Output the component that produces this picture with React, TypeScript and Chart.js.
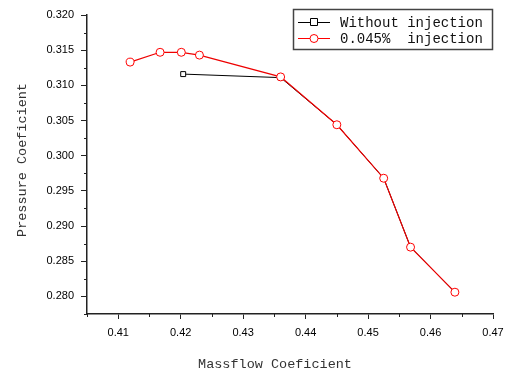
import React, { useEffect, useRef } from "react";
import { Chart, registerables } from "chart.js";

Chart.register(...registerables);

// Data
const redX = [0.4119, 0.4167, 0.4201, 0.4230, 0.4360, 0.4450, 0.4525, 0.4568, 0.4639];
const redY = [0.3133, 0.3147, 0.3147, 0.3143, 0.3112, 0.3044, 0.2968, 0.2870, 0.2806];
const blackX = [0.4204, 0.4360, 0.4450, 0.4525, 0.4568, 0.4639];
const blackY = [0.3116, 0.3111, 0.3044, 0.2968, 0.2870, 0.2806];

const seriesNames = ["Without injection", "0.045%  injection"];
const xTitle = "Massflow Coeficient";
const yTitle = "Pressure Coeficient";

const xTicks = [0.41, 0.42, 0.43, 0.44, 0.45, 0.46, 0.47];
const xMinor = [0.405, 0.415, 0.425, 0.435, 0.445, 0.455, 0.465];
const yTicks = [0.28, 0.285, 0.29, 0.295, 0.3, 0.305, 0.31, 0.315, 0.32];
const yMinor = [0.2775, 0.2825, 0.2875, 0.2925, 0.2975, 0.3025, 0.3075, 0.3125, 0.3175];

const TITLE_FONT = '13.5px "Liberation Mono", "DejaVu Sans Mono", monospace';
const LEGEND_FONT = '14px "Liberation Mono", "DejaVu Sans Mono", monospace';
const TICK_FONT_FAMILY = '"Liberation Sans", Arial, sans-serif';

const decoPlugin = {
  id: "deco",
  afterDraw(chart: any) {
    const ctx = chart.ctx;
    const xs = chart.scales.x;
    const ys = chart.scales.y;
    const area = chart.chartArea;
    ctx.save();
    // minor ticks
    ctx.strokeStyle = "#222";
    ctx.lineWidth = 1;
    ctx.beginPath();
    xMinor.forEach((v) => {
      const px = Math.round(xs.getPixelForValue(v)) + 0.5;
      ctx.moveTo(px, area.bottom);
      ctx.lineTo(px, area.bottom + 3);
    });
    yMinor.forEach((v) => {
      const py = Math.round(ys.getPixelForValue(v)) + 0.5;
      ctx.moveTo(area.left, py);
      ctx.lineTo(area.left - 3, py);
    });
    ctx.stroke();

    // axis titles
    ctx.fillStyle = "#333";
    ctx.font = TITLE_FONT;
    ctx.textAlign = "center";
    ctx.textBaseline = "middle";
    ctx.fillText(xTitle, 275, 364);
    ctx.save();
    ctx.translate(22, 160);
    ctx.rotate(-Math.PI / 2);
    ctx.fillText(yTitle, 0, 0);
    ctx.restore();

    // legend box
    ctx.strokeStyle = "#444";
    ctx.lineWidth = 1.5;
    ctx.strokeRect(293.5, 9.5, 199, 40);
    const rows = [
      { y: 22, color: "#000", style: "rect" },
      { y: 38, color: "#ff0000", style: "circle" },
    ];
    rows.forEach((r, i) => {
      ctx.strokeStyle = r.color;
      ctx.lineWidth = 1;
      ctx.beginPath();
      ctx.moveTo(298, r.y + 0.5);
      ctx.lineTo(330, r.y + 0.5);
      ctx.stroke();
      ctx.fillStyle = "#fff";
      ctx.beginPath();
      if (r.style === "rect") {
        ctx.rect(310.5, r.y - 3.5, 7, 7);
      } else {
        ctx.arc(314, r.y + 0.5, 4, 0, Math.PI * 2);
      }
      ctx.fill();
      ctx.stroke();
      ctx.fillStyle = "#111";
      ctx.textAlign = "left";
      ctx.font = LEGEND_FONT;
      ctx.fillText(seriesNames[i], 340, r.y + 1);
    });
    ctx.restore();
  },
};

export default function App() {
  const ref = useRef<HTMLCanvasElement | null>(null);
  useEffect(() => {
    if (!ref.current) return;
    const chart = new Chart(ref.current, {
      type: "line",
      data: {
        datasets: [
          {
            label: seriesNames[1],
            data: redX.map((x, i) => ({ x, y: redY[i] })),
            borderColor: "#ee0000",
            borderWidth: 1.2,
            pointStyle: "circle",
            pointRadius: 4,
            pointBorderWidth: 1,
            pointBorderColor: "#ff0000",
            pointBackgroundColor: "#ffffff",
            tension: 0,
          },
          {
            label: seriesNames[0],
            data: blackX.map((x, i) => ({ x, y: blackY[i] })),
            borderColor: "#000",
            borderWidth: 1,
            pointStyle: "rect",
            pointRadius: 3.5,
            pointBorderWidth: 1,
            pointBorderColor: "#000",
            pointBackgroundColor: "#ffffff",
            tension: 0,
          },
        ],
      },
      options: {
        animation: false,
        responsive: false,
        devicePixelRatio: 1,
        layout: { padding: { top: 15, right: 18, left: 0, bottom: 0 } },
        plugins: { legend: { display: false }, tooltip: { enabled: false } },
        scales: {
          x: {
            type: "linear",
            min: 0.405,
            max: 0.47,
            afterFit: (s: any) => {
              s.height = 60;
            },
            afterBuildTicks: (s: any) => {
              s.ticks = xTicks.map((v) => ({ value: v }));
            },
            grid: {
              drawOnChartArea: false,
              drawTicks: true,
              tickLength: 5,
              tickColor: "#222",
              tickWidth: 1,
            },
            border: { display: true, color: "#222", width: 1.5 },
            ticks: {
              padding: 7,
              color: "#000",
              font: { family: TICK_FONT_FAMILY, size: 11 },
              maxRotation: 0,
              autoSkip: false,
              callback: (v: any) => Number(v).toFixed(2),
            },
          },
          y: {
            type: "linear",
            min: 0.2775,
            max: 0.32,
            afterFit: (s: any) => {
              s.width = 87;
            },
            afterBuildTicks: (s: any) => {
              s.ticks = yTicks.map((v) => ({ value: v }));
            },
            grid: {
              drawOnChartArea: false,
              drawTicks: true,
              tickLength: 6,
              tickColor: "#222",
              tickWidth: 1,
            },
            border: { display: true, color: "#222", width: 1.5 },
            ticks: {
              padding: 7,
              color: "#000",
              font: { family: TICK_FONT_FAMILY, size: 11 },
              autoSkip: false,
              callback: (v: any) => Number(v).toFixed(3),
            },
          },
        },
      },
      plugins: [decoPlugin],
    });
    return () => chart.destroy();
  }, []);
  return (
    <div style={{ position: "absolute", left: 0, top: 0, width: 511, height: 374, background: "#fff" }}>
      <canvas ref={ref} width={511} height={374} style={{ width: 511, height: 374, display: "block" }} />
    </div>
  );
}
